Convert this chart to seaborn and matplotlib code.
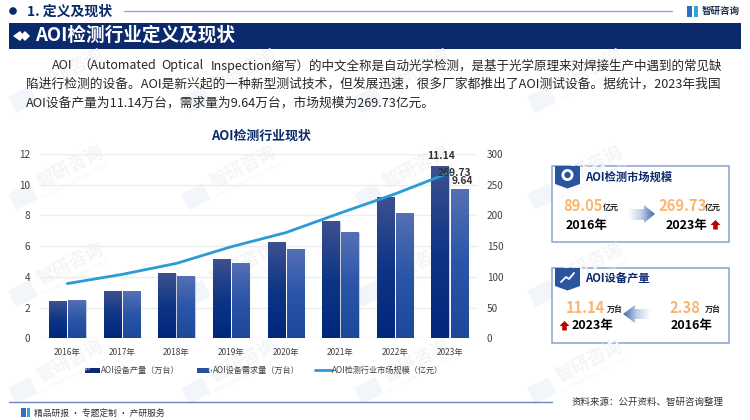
import numpy as np
import pandas as pd
import matplotlib
matplotlib.use("Agg")
import matplotlib.pyplot as plt
import seaborn as sns
from matplotlib.patches import Polygon, Rectangle, Circle
from matplotlib.colors import LinearSegmentedColormap

years = ["2016年", "2017年", "2018年", "2019年", "2020年", "2021年", "2022年", "2023年"]
production = [2.38, 3.04, 4.17, 5.14, 6.23, 7.57, 9.18, 11.14]
demand = [2.43, 3.04, 4.01, 4.86, 5.79, 6.84, 8.09, 9.64]
market = [89.05, 104, 122, 149, 172, 204, 235, 269.73]
left_ticks = [0, 2, 4, 6, 8, 10, 12]
right_ticks = [0, 50, 100, 150, 200, 250, 300]
para = ["陷进行检测的设备。AOI是新兴起的一种新型测试技术，但发展迅速，很多厂家都推出了AOI测试设备。据统计，2023年我国",
        "AOI设备产量为11.14万台，需求量为9.64万台，市场规模为269.73亿元。"]

sns.set_theme(style="white")
plt.rcParams['font.family'] = ['Noto Sans CJK SC', 'DejaVu Sans']
NAVY = "#0B2A6B"
ORANGE = "#FBB56C"

fig = plt.figure(figsize=(7.5, 4.2), dpi=100, facecolor="white")
bg = fig.add_axes([0, 0, 1, 1], zorder=0)
bg.set_xlim(0, 750); bg.set_ylim(420, 0); bg.axis("off")

# watermark
for y in (70, 167, 264, 361):
    for x in (70, 243, 416, 589):
        bg.text(x, y, "智研咨询", color="#F3F5F8", fontsize=13, rotation=27,
                ha="center", va="center", weight="bold")
        bg.text(x + 5, y + 14, "INTELLIGENCE RESEARCH GROUP", color="#F3F5F8", fontsize=3.4,
                rotation=27, ha="center", va="center")
        bg.add_patch(Rectangle((x - 62, y + 27), 24, 18, angle=-27, color="#F2F6FB", lw=0))

# header
bg.add_patch(Circle((13, 11), 3.8, color=NAVY, lw=0))
bg.text(27, 11.5, "1. 定义及现状", color=NAVY, fontsize=10, weight="bold", va="center")
bg.plot([124, 672], [10.5, 10.5], color="#93A5CE", lw=1)
bg.add_patch(Rectangle((687, 6), 5, 11, color="#2E6FC0", lw=0))
bg.add_patch(Rectangle((694, 6), 4, 11, color="#2FA5D8", lw=0))
bg.text(702, 10.5, "智研咨询", color="#22304F", fontsize=6.8, weight="bold", va="center")
bg.add_patch(Rectangle((9, 23), 732, 26, color=NAVY, lw=0))
bg.add_patch(Polygon([(13, 36), (20, 31), (24, 36), (20, 41)], color="white", lw=0))
bg.add_patch(Polygon([(20, 36), (25, 31), (30, 36), (25, 41)], color="white", lw=0))
bg.text(35, 35.5, "AOI检测行业定义及现状", color="white", fontsize=13.4, weight="bold", va="center")

# paragraph
PC = "#262626"
for x, s in [(52, "AOI"), (78, "（Automated"), (161, "Optical"), (211, "Inspection缩写）的中文全称是自动光学检测，是基于光学原理来对焊接生产中遇到的常见缺")]:
    bg.text(x, 65.5, s, color=PC, fontsize=9.0, va="center")
bg.text(26, 84.5, para[0], color=PC, fontsize=9.17, va="center")
bg.text(26, 103, para[1], color=PC, fontsize=9.15, va="center")
bg.text(261, 136, "AOI检测行业现状", color=NAVY, fontsize=9.3, weight="bold", ha="center", va="center")

# chart
L, R, T, B = 40, 477, 154, 338.3
ax = fig.add_axes([L / 750, 1 - B / 420, (R - L) / 750, (B - T) / 420], zorder=2)
ax.patch.set_alpha(0)
df = pd.DataFrame({"year": years * 2,
                   "value": production + demand,
                   "series": ["AOI设备产量（万台）"] * 8 + ["AOI设备需求量（万台）"] * 8})
sns.barplot(data=df, x="year", y="value", hue="series", ax=ax, dodge=True,
            palette=["#0B2A78", "#2A4F9F"], gap=0.095, width=0.70, legend=False, zorder=3)
ax.set_xlabel(""); ax.set_ylabel("")
ax.set_yticks(left_ticks)
ax.grid(axis="y", color="#EDEDED", lw=1)
ax.grid(axis="x", visible=False)
ax.set_axisbelow(True)
sns.despine(ax=ax, left=True, bottom=True, top=True, right=True)
ax.tick_params(axis="y", length=0, labelsize=7.2, labelcolor="#404040", pad=7)
ax.tick_params(axis="x", length=0, labelsize=6.0, labelcolor="#404040", pad=7)
ax.axhline(0, color="#D9D9D9", lw=0.8, zorder=2)

cm1 = LinearSegmentedColormap.from_list("a", ["#3D5190", "#0E3585", "#00277A"])
cm2 = LinearSegmentedColormap.from_list("b", ["#5570B4", "#2A55A8", "#1E4899"])
grad = np.linspace(0, 1, 128).reshape(-1, 1)
bars = [p for p in ax.patches if p.get_height() > 0]
for i, p in enumerate(bars):
    x0, w, h = p.get_x(), p.get_width(), p.get_height()
    ax.imshow(grad, cmap=cm1 if i < 8 else cm2, extent=(x0, x0 + w, 0, h),
              aspect="auto", zorder=3.5, origin="upper")
    p.set_edgecolor("#C9CEDC"); p.set_linewidth(0.8)
ax.set_xlim(-0.5, 7.5); ax.set_ylim(0, 12)

ax2 = ax.twinx()
ax2.set_zorder(3)
ax2.patch.set_alpha(0)
sns.lineplot(x=np.arange(8), y=market, ax=ax2, color="#2A9BD6", lw=2.0, legend=False, zorder=5)
ax2.set_ylim(0, 300)
ax2.set_yticks(right_ticks)
ax2.set_xlim(-0.5, 7.5)
ax2.grid(False)
sns.despine(ax=ax2, left=True, bottom=True, top=True, right=True)
ax2.tick_params(axis="y", length=0, labelsize=7.2, labelcolor="#404040", pad=7)
ax2.set_ylabel("")

LB = "#333333"
ax2.text(6.84, 297.5, f"{production[7]:.2f}", ha="center", va="center", fontsize=7.4,
         weight="bold", color=LB, zorder=9)
ax2.text(7.24, 256, f"{demand[7]:.2f}", ha="center", va="center", fontsize=7.4,
         weight="bold", color=LB, zorder=9)
ax2.text(7.08, market[7], f"{market[7]:.2f}", ha="center", va="center", fontsize=7.4,
         weight="bold", color=LB, zorder=9)

# legend
for x0, c, t, tx in [(85, "#0B2A78", "AOI设备产量（万台）", 101), (197, "#2A4F9F", "AOI设备需求量（万台）", 213)]:
    bg.add_patch(Rectangle((x0, 367.5), 15, 5, color=c, lw=0))
    bg.text(tx, 370, t, fontsize=5.9, color="#404040", va="center")
bg.plot([315, 332], [370, 370], color="#2A9BD6", lw=2)
bg.text(332, 370, "AOI检测行业市场规模（亿元）", fontsize=5.9, color="#404040", va="center")

def gradient_arrow(pts, box, reverse):
    g = np.linspace(0, 1, 64).reshape(1, -1)
    if reverse:
        g = g[:, ::-1]
    cm = LinearSegmentedColormap.from_list("c", ["#FFFFFF", "#C3CFE6", "#3F64AE"])
    im = bg.imshow(g, cmap=cm, extent=box, aspect="auto", zorder=3)
    clip = Polygon(pts, transform=bg.transData, fc="none", ec="none")
    bg.add_patch(clip)
    im.set_clip_path(clip)
    bg.set_xlim(0, 750); bg.set_ylim(420, 0)

def up_arrow(cx, cy):
    bg.add_patch(Polygon([(cx, cy - 5), (cx + 5, cy), (cx + 2.3, cy), (cx + 2.3, cy + 4.5),
                          (cx - 2.3, cy + 4.5), (cx - 2.3, cy), (cx - 5, cy)], color="#C00000", lw=0, zorder=4))

def card(top, bottom, title):
    bg.add_patch(Rectangle((552, top), 177, bottom - top, fc="white", ec="#7C97CC", lw=1.1, alpha=0.9, zorder=2))
    bg.add_patch(Polygon([(555, top), (580, top), (580, top + 18), (567.5, top + 22.5), (555, top + 18)],
                         color="#2B549F", lw=0, zorder=3))
    bg.text(585, top + 11, title, fontsize=8.1, weight="bold", color=NAVY, va="center", zorder=4)

NUM = 10.6
YR = 9.0
UNIT = 5.8
card(166, 242, "AOI检测市场规模")
bg.add_patch(Circle((567.5, 175), 6, fc="white", ec="none", zorder=4))
bg.add_patch(Circle((567.5, 175), 3.2, fc="#2B549F", ec="none", zorder=5))
bg.text(563, 206, "89.05", fontsize=NUM, weight="bold", color=ORANGE, va="center", zorder=4)
bg.text(603, 207.5, "亿元", fontsize=UNIT, weight="bold", color="#222222", va="center", zorder=4)
bg.text(566, 225, "2016年", fontsize=YR, weight="bold", color="black", va="center", zorder=4)
gradient_arrow([(628, 209), (644, 209), (644, 205), (655, 214), (644, 223), (644, 220), (628, 220)],
               (628, 655, 223, 205), False)
bg.text(658, 206, "269.73", fontsize=NUM, weight="bold", color=ORANGE, va="center", zorder=4)
bg.text(705, 207.5, "亿元", fontsize=UNIT, weight="bold", color="#222222", va="center", zorder=4)
bg.text(666, 225, "2023年", fontsize=YR, weight="bold", color="black", va="center", zorder=4)
up_arrow(715.5, 225)

card(268, 343, "AOI设备产量")
bg.plot([561, 566, 569, 574], [282, 277, 279, 273], color="white", lw=1.3, zorder=4)
bg.text(566, 308, "11.14", fontsize=NUM, weight="bold", color=ORANGE, va="center", zorder=4)
bg.text(607, 309.5, "万台", fontsize=UNIT, weight="bold", color="#222222", va="center", zorder=4)
bg.text(669, 308, "2.38", fontsize=NUM, weight="bold", color=ORANGE, va="center", zorder=4)
bg.text(705, 309.5, "万台", fontsize=UNIT, weight="bold", color="#222222", va="center", zorder=4)
bg.text(572, 326, "2023年", fontsize=YR, weight="bold", color="black", va="center", zorder=4)
bg.text(671, 326, "2016年", fontsize=YR, weight="bold", color="black", va="center", zorder=4)
gradient_arrow([(651, 309), (635, 309), (635, 305), (623, 314), (635, 323), (635, 319), (651, 319)],
               (623, 651, 323, 305), True)
up_arrow(564.5, 326)

# footer
bg.plot([9, 552], [402, 402], color="#6F86B8", lw=1, zorder=3)
bg.add_patch(Rectangle((21, 408), 5, 9, color="#2E6FC0", lw=0))
bg.add_patch(Rectangle((27, 408), 3, 9, color="#2FA5D8", lw=0))
bg.text(34, 413, "精品研报 · 专题定制 · 产研服务", fontsize=6.3, color="#333333", va="center")
bg.text(723, 402, "资料来源：公开资料、智研咨询整理", fontsize=6.8, color="#333333", va="center", ha="right")

fig.savefig("out.png", dpi=100)
